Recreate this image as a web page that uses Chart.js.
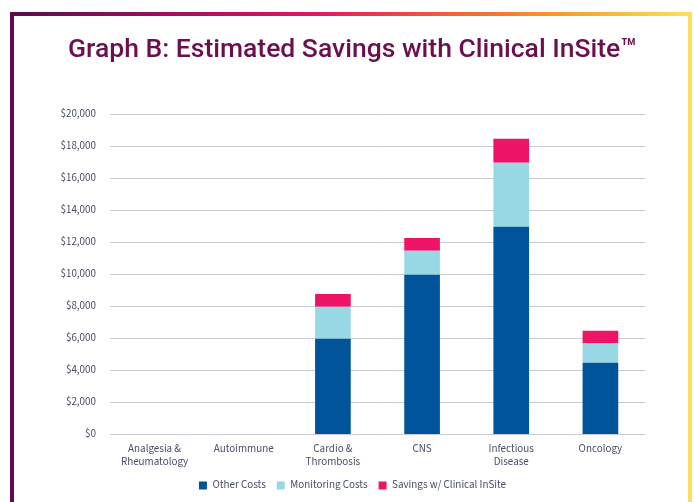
<!DOCTYPE html>
<html>
<head>
<meta charset="utf-8">
<script src="https://cdn.jsdelivr.net/npm/chart.js@4.4.0/dist/chart.umd.min.js"></script>
<style>
  html, body { margin: 0; padding: 0; background: #fff; }
  body { width: 694px; height: 502px; position: relative; overflow: hidden; }
  .frame {
    position: absolute; left: 10px; top: 12px; width: 674px; height: 520px;
    border: 4px solid transparent; border-bottom: 0;
    border-image: linear-gradient(to right, #5e0c4c, #a3105f 25%, #dc1a60 45%, #ea5a3a 62%, #f4902a 78%, #fde05a) 1;
  }
  #wrap { position: absolute; left: 0; top: 0; width: 694px; height: 502px; }
</style>
</head>
<body>
<div class="frame"></div>
<div id="wrap"><canvas id="grafico" width="694" height="502"></canvas></div>
<script>
// categorias e valores
const categorias = [['Analgesia &', 'Rheumatology'], 'Autoimmune', ['Cardio &', 'Thrombosis'], 'CNS', ['Infectious', 'Disease'], 'Oncology'];
const outrosCustos = [0, 0, 6000, 10000, 13000, 4500];
const custosMonitoramento = [0, 0, 2000, 1500, 4000, 1200];
const economia = [0, 0, 800, 800, 1500, 800];
const ticksY = [0, 2000, 4000, 6000, 8000, 10000, 12000, 14000, 16000, 18000, 20000];

const fonteTexto = "'Source Sans Pro', 'Source Sans 3', Lato, sans-serif";

const ctx = document.getElementById('grafico');

new Chart(ctx, {
  type: 'bar',
  data: {
    labels: categorias,
    datasets: [{
      label: 'Other Costs',
      data: outrosCustos,
      backgroundColor: '#00549b',
      barPercentage: 0.8,
      categoryPercentage: 0.5
    },
    {
      label: 'Monitoring Costs',
      data: custosMonitoramento,
      backgroundColor: '#98d8e5',
      barPercentage: 0.8,
      categoryPercentage: 0.5
    },
    {
      label: 'Savings w/ Clinical InSite',
      data: economia,
      backgroundColor: '#ed1465',
      barPercentage: 0.8,
      categoryPercentage: 0.5
    }]
  },
  options: {
    responsive: false,
    animation: false,
    layout: {
      padding: { left: 60, right: 49, bottom: 1, top: 0 }
    },
    scales: {
      x: {
        stacked: true,
        grid: { display: false },
        border: { display: false },
        ticks: {
          color: '#4a5068',
          font: { family: fonteTexto, size: 11 },
          maxRotation: 0,
          padding: 0
        }
      },
      y: {
        stacked: true,
        min: 0,
        max: 20000,
        afterBuildTicks: function (scale) {
          scale.ticks = ticksY.map(v => ({ value: v }));
        },
        afterFit: function (scale) {
          scale.width = 50;
        },
        grid: { color: '#c9c9d3', lineWidth: 1, drawTicks: false },
        border: { display: false },
        ticks: {
          color: '#4a5068',
          font: { family: fonteTexto, size: 11 },
          padding: 14,
          callback: v => '$' + v.toLocaleString('en-US')
        }
      }
    },
    plugins: {
      title: {
        display: true,
        text: 'Graph B: Estimated Savings with Clinical InSite™',
        color: '#6b0f4e',
        font: { family: 'Roboto', size: 26.5, weight: '500' },
        padding: { top: 34, bottom: 49 }
      },
      legend: {
        position: 'bottom',
        labels: {
          boxWidth: 8,
          boxHeight: 8,
          color: '#4a5068',
          font: { family: fonteTexto, size: 11 },
          padding: 11
        }
      },
      tooltip: { enabled: false }
    }
  }
});
</script>
</body>
</html>
